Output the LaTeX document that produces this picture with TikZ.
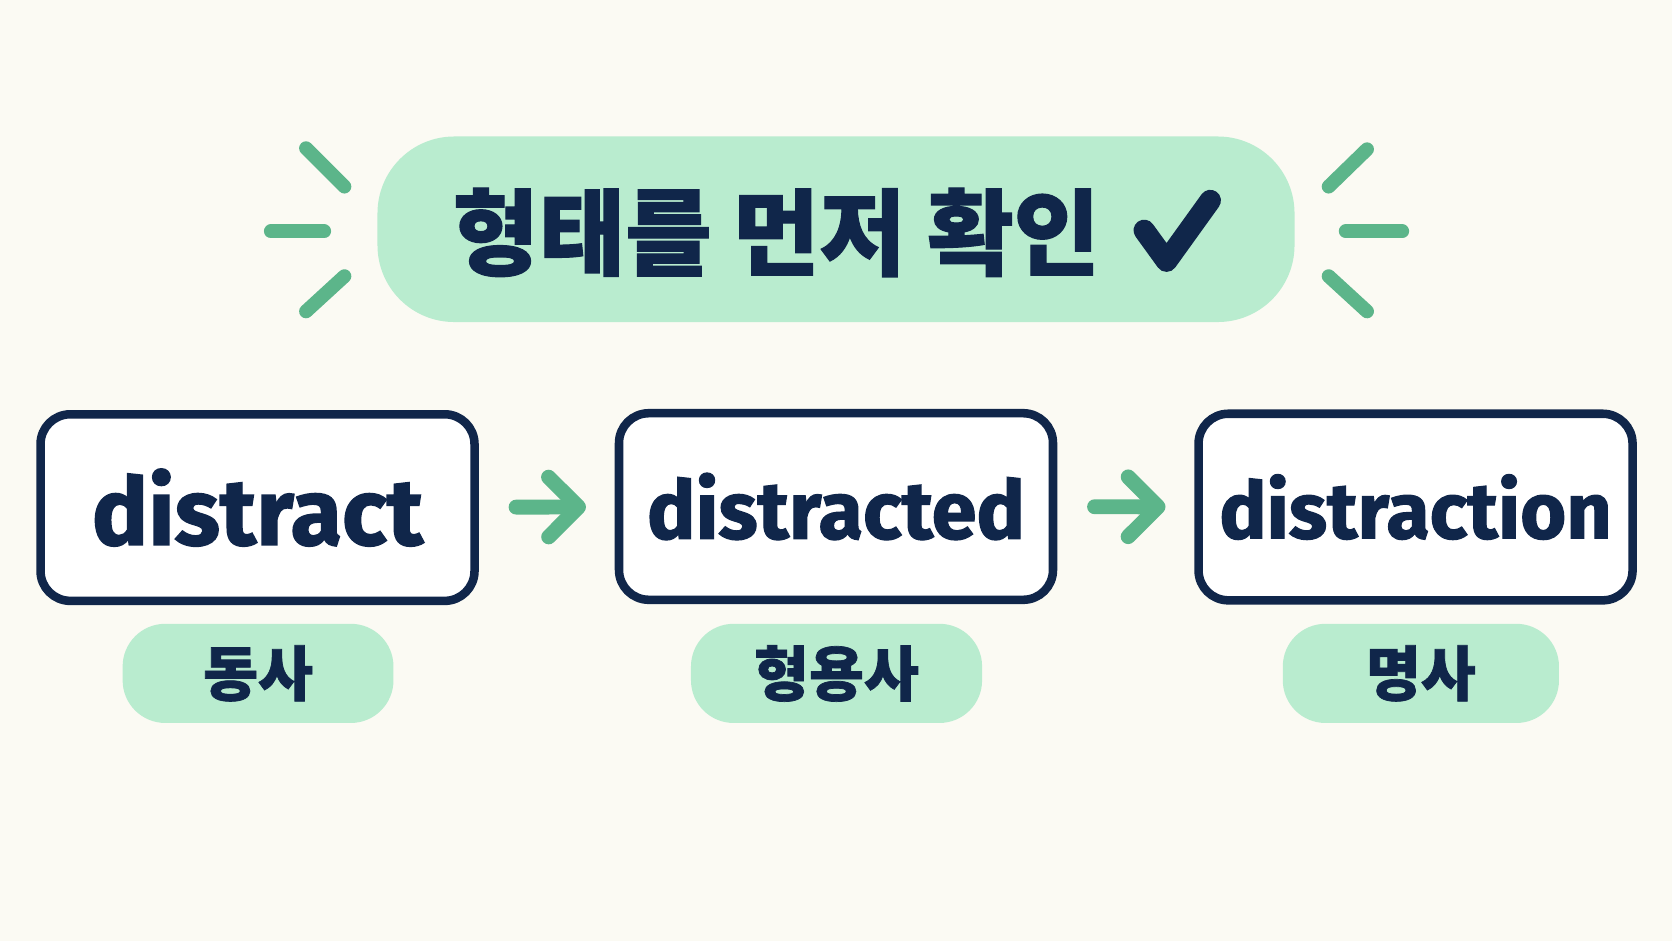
\documentclass[tikz,border=0pt]{standalone}
\usepackage{fontspec}
\setmainfont{Fira Sans}[BoldFeatures={FakeBold=1.5}]
\newfontfamily\kr{Noto Sans CJK KR}[BoldFeatures={FakeBold=1.2}]
\usetikzlibrary{arrows.meta}
\definecolor{bgc}{HTML}{FBFAF3}
\definecolor{navy}{HTML}{10264A}
\definecolor{gline}{HTML}{5CB58A}
\definecolor{pillc}{HTML}{B9ECCF}
\tikzset{
  wordbox/.style={draw=navy, line width=8pt, rounded corners=28pt, fill=white,
    minimum width=407pt, minimum height=175pt, inner sep=0pt, text=navy},
  wsize/.style={font=\fontsize{#1}{#1}\selectfont\bfseries},
  tagpill/.style={fill=pillc, rounded corners=40pt, minimum height=93pt, inner sep=0pt,
    font=\kr\bfseries\fontsize{56}{60}\selectfont, text=navy},
  spark/.style={draw=gline, line width=13pt, line cap=round},
  flow/.style={draw=gline, line width=14pt, line cap=round,
    -{Straight Barb[length=28pt, width=56pt, line cap=round, line join=round]},
    shorten <=35pt, shorten >=27pt},
}
\begin{document}
\begin{tikzpicture}[x=1pt, y=-1pt]
\fill[bgc] (0,0) rectangle (1568,882);
\useasboundingbox (0,0) rectangle (1568,882);

% title pill
\node[fill=pillc, rounded corners=72pt, minimum width=860pt, minimum height=174pt, inner sep=0pt] (title) at (784,215) {};
\node[font=\kr\bfseries\fontsize{88}{95}\selectfont, text=navy, inner sep=0pt] (ttext) at (728,218) {형태를 먼저 확인};
\coordinate (ck1) at (1073,216);
\coordinate (ck2) at (1094,245);
\coordinate (ck3) at (1135,188);
\draw[navy, line width=20pt, line cap=round, line join=round] (ck1) -- (ck2) -- (ck3);

% sparks
\coordinate (la1) at (287,139); \coordinate (la2) at (323,175);
\coordinate (lb1) at (254,217); \coordinate (lb2) at (304,217);
\coordinate (lc1) at (287,292); \coordinate (lc2) at (323,259);
\coordinate (ra1) at (1282,140); \coordinate (ra2) at (1246,175);
\coordinate (rb1) at (1262,217); \coordinate (rb2) at (1315,217);
\coordinate (rc1) at (1282,292); \coordinate (rc2) at (1246,259);
\draw[spark] (la1) -- (la2);
\draw[spark] (lb1) -- (lb2);
\draw[spark] (lc1) -- (lc2);
\draw[spark] (ra1) -- (ra2);
\draw[spark] (rb1) -- (rb2);
\draw[spark] (rc1) -- (rc2);

% word boxes
\node[wordbox, wsize=88] (b1) at (241.5,476) {distract};
\node[wordbox, wsize=76] (b2) at (784,475) {distracted};
\node[wordbox, wsize=74] (b3) at (1327.5,475.5) {distraction};

\draw[flow] (b1) -- (b2);
\draw[flow] (b2) -- (b3);

% tags
\node[tagpill, minimum width=254pt] (t1) at (242,631.5) {동사};
\node[tagpill, minimum width=273pt] (t2) at (784.5,631.5) {형용사};
\node[tagpill, minimum width=259pt] (t3) at (1332.5,631.5) {명사};
\end{tikzpicture}
\end{document}
